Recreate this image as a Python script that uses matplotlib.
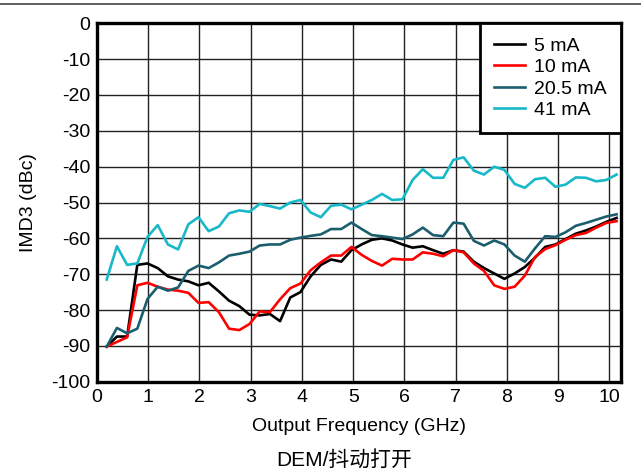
import numpy as np
import matplotlib
matplotlib.use('Agg')
import matplotlib.pyplot as plt
from matplotlib.lines import Line2D

plt.rcParams['font.family'] = ['Liberation Sans', 'DejaVu Sans']
plt.rcParams['axes.unicode_minus'] = False

# Частоты (ГГц), шаг ~0.2
freq = np.linspace(0.19, 10.14, 51)

imd_5 = [-90.2, -87.4, -87.4, -67.4, -67.0, -68.3, -70.6, -71.5, -72.0, -73.1,
         -72.4, -74.8, -77.4, -78.9, -81.3, -81.5, -81.1, -83.1, -76.5, -75.0,
         -70.6, -67.4, -65.9, -66.5, -63.3, -61.7, -60.4, -60.0, -60.6, -61.7,
         -62.6, -62.2, -63.3, -64.3, -63.3, -63.7, -66.5, -68.3, -69.8, -71.3,
         -69.8, -68.0, -65.4, -62.4, -61.7, -60.2, -58.7, -57.8, -56.7, -55.4,
         -54.3]
imd_10 = [-90.2, -88.9, -87.6, -73.1, -72.4, -73.5, -74.3, -74.6, -75.2, -78.0,
          -77.8, -80.6, -85.2, -85.6, -83.9, -80.4, -80.6, -77.0, -73.9, -72.6,
          -68.9, -66.7, -64.8, -64.8, -62.4, -64.6, -66.3, -67.6, -65.7, -65.9,
          -65.9, -63.9, -64.3, -65.0, -63.3, -63.9, -67.0, -69.1, -73.1, -74.1,
          -73.5, -70.4, -65.2, -63.0, -61.9, -60.4, -59.1, -58.5, -57.0, -55.7,
          -55.2]
imd_20 = [-90.2, -85.0, -86.5, -85.2, -76.9, -73.5, -74.6, -73.7, -69.1, -67.6,
          -68.3, -66.7, -64.8, -64.3, -63.7, -62.0, -61.7, -61.7, -60.4, -59.8,
          -59.3, -58.9, -57.4, -57.4, -55.6, -57.4, -59.1, -59.4, -59.8, -60.2,
          -58.9, -57.0, -59.1, -59.4, -55.6, -55.9, -60.7, -62.0, -60.6, -61.7,
          -64.8, -66.5, -62.8, -59.4, -59.6, -58.3, -56.5, -55.7, -54.8, -53.9,
          -53.3]
imd_41 = [-71.5, -62.2, -67.4, -67.0, -59.6, -56.3, -61.7, -63.1, -56.1, -54.1,
          -58.0, -56.7, -53.0, -52.2, -52.6, -50.4, -51.0, -51.7, -50.0, -49.3,
          -52.8, -54.1, -50.9, -50.6, -51.9, -50.6, -49.3, -47.6, -49.3, -49.1,
          -43.7, -40.7, -43.1, -43.1, -38.1, -37.4, -41.1, -42.2, -40.0, -40.9,
          -44.8, -45.9, -43.5, -43.1, -45.6, -45.0, -43.0, -43.1, -44.1, -43.7,
          -42.2]

labels = ['5 mA', '10 mA', '20.5 mA', '41 mA']
colors = ['#000000', '#ff0000', '#1b5e6e', '#17b9c9']

fig = plt.figure(figsize=(6.41, 4.72), dpi=100)
ax = fig.add_axes([0.1513, 0.1913, 0.817, 0.7593])

for y, lab, c in zip([imd_5, imd_10, imd_20, imd_41], labels, colors):
    ax.plot(freq, y, color=c, linewidth=1.9, label=lab)

ax.set_xlim(0, 10.22)
ax.set_ylim(-100, 0)
ax.set_xticks(range(0, 11))
ax.set_yticks(range(-100, 1, 10))
ax.grid(True, color='#222222', linewidth=1.0)
ax.set_axisbelow(True)
ax.tick_params(length=0, pad=5, labelsize=14)
for s in ax.spines.values():
    s.set_linewidth(2.4)
    s.set_color('black')

ax.set_xlabel('Output Frequency (GHz)', fontsize=14, labelpad=9)
ax.set_ylabel('IMD3 (dBc)', fontsize=14, labelpad=10)

leg = ax.legend(loc='upper right', fontsize=14, handlelength=1.6,
                borderaxespad=0, fancybox=False, framealpha=1,
                labelspacing=0.2, borderpad=0.7, handletextpad=0.5)
leg.get_frame().set_edgecolor('black')
leg.get_frame().set_linewidth(2.0)

fig.text(0.537, 0.025, 'DEM/抖动打开', ha='center', va='center', fontsize=15,
         family=['Liberation Sans', 'Noto Sans CJK SC'])

fig.add_artist(Line2D([0, 1], [0.991, 0.991], color='#444444', linewidth=1.2,
                      transform=fig.transFigure))

plt.savefig('out.png', dpi=100)
